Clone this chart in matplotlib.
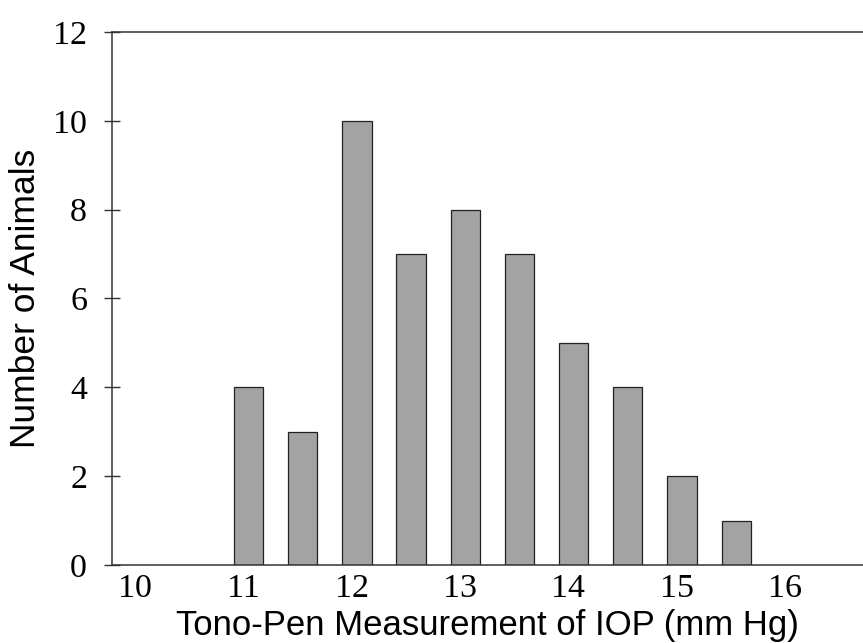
import numpy as np
import matplotlib
matplotlib.use("Agg")
import matplotlib.pyplot as plt

# IOP bins (mm Hg) and number of animals in each
iop_bins = [11.0, 11.5, 12.0, 12.5, 13.0, 13.5, 14.0, 14.5, 15.0, 15.5]
n_animals = [4, 3, 10, 7, 8, 7, 5, 4, 2, 1]
x_ticks = [10, 11, 12, 13, 14, 15, 16]
y_ticks = [0, 2, 4, 6, 8, 10, 12]

fig = plt.figure(figsize=(8.63, 6.43), dpi=100)
ax = fig.add_axes([0.1298, 0.1213, 0.8702, 0.829])

# bars sit a little right of the tick labels in the original
ax.bar(np.array(iop_bins) + 0.05, n_animals, width=0.27,
       color='#a3a3a3', edgecolor='#222222', linewidth=0.9)

ax.set_xlim(9.79, 16.72)
ax.set_ylim(0, 12)
ax.set_xticks(x_ticks)
ax.set_yticks(y_ticks)

serif = 'Liberation Serif'
ax.set_xticklabels([str(t) for t in x_ticks], family=serif, fontsize=24.5)
ax.set_yticklabels([str(t) for t in y_ticks], family=serif, fontsize=24.5)
ax.tick_params(axis='x', length=0, pad=6)
ax.tick_params(axis='y', direction='inout', length=12, width=1, pad=12, color='#333333')

ax.spines['right'].set_visible(False)
for side in ['left', 'bottom', 'top']:
    ax.spines[side].set_color('#333333')
    ax.spines[side].set_linewidth(1.1)

ax.set_xlabel("Tono-Pen Measurement of IOP (mm Hg)", family='Liberation Sans', fontsize=25, labelpad=4)
ax.set_ylabel("Number of Animals", family='Liberation Sans', fontsize=25.5, labelpad=8)

fig.savefig("out.png", dpi=100)
